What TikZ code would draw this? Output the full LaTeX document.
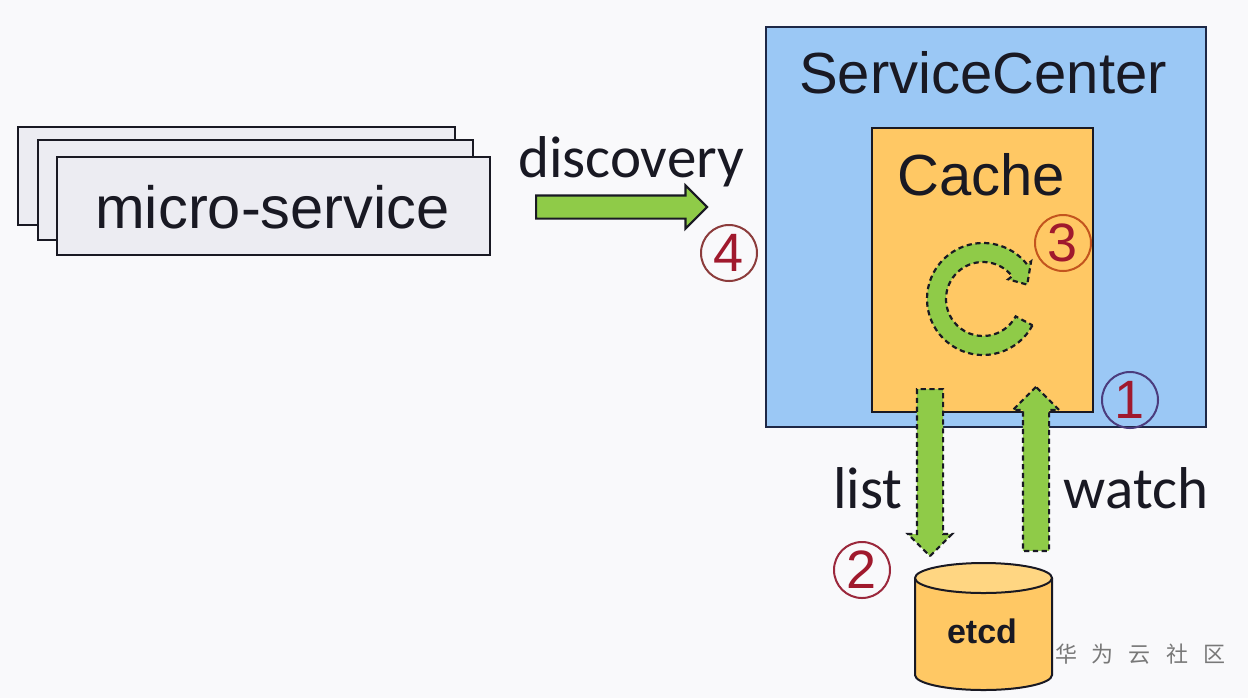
\documentclass[tikz,border=0pt]{standalone}
\usepackage{fontspec}
\setmainfont{Liberation Sans}
\newfontfamily\calfont{Carlito}
\newfontfamily\cjkfont{Noto Sans CJK SC}
\usetikzlibrary{shapes.arrows,calc}
\definecolor{bgc}{RGB}{249,249,251}
\definecolor{msfill}{RGB}{236,236,242}
\definecolor{scfill}{RGB}{155,200,245}
\definecolor{scline}{RGB}{30,40,70}
\definecolor{cachefill}{RGB}{255,200,100}
\definecolor{topfill}{RGB}{255,214,130}
\definecolor{greenfill}{RGB}{143,203,72}
\definecolor{darktext}{RGB}{25,25,35}
\definecolor{digitred}{RGB}{160,25,45}
\definecolor{ring4}{RGB}{140,60,60}
\definecolor{ring3}{RGB}{195,85,30}
\definecolor{ring1}{RGB}{75,60,125}
\definecolor{ring2}{RGB}{155,40,60}
\definecolor{wmgray}{RGB}{120,120,120}
\begin{document}
\begin{tikzpicture}[x=0.5pt,y=-0.5pt,
  msbox/.style={draw=darktext, fill=msfill, line width=1pt, inner sep=0pt},
  bigfont/.style={font=\fontsize{29}{29}\selectfont, text=darktext, inner sep=0pt},
  calfont/.style={font=\calfont\fontsize{29.5}{29.5}\selectfont, text=darktext, inner sep=0pt},
  fatarrow/.style={single arrow, draw=darktext, fill=greenfill, line width=1.1pt,
     inner xsep=0pt, inner ysep=6pt, single arrow head extend=4.5pt, anchor=tail},
  dasharrow/.style={fatarrow, dash pattern=on 2.6pt off 1.8pt},
  ringnum/.style={circle, line width=1pt, minimum size=28pt, inner sep=0pt,
     text=digitred, font=\fontsize{27}{27}\selectfont}
]
\fill[bgc] (0,0) rectangle (1248,698);
\useasboundingbox (0,0) rectangle (1248,698);

% micro-service stack
\node[msbox, minimum width=218.5pt, minimum height=49pt] (ms1) at (236.5,176) {};
\node[msbox, minimum width=217.5pt, minimum height=50pt] (ms2) at (255.5,190) {};
\node[msbox, minimum width=216.5pt, minimum height=49pt] (ms3) at (273.5,206) {};
\node[bigfont, font=\fontsize{29.8}{29.8}\selectfont, anchor=base] (mslabel) at (272.5,228) {micro-service};

% discovery
\node[calfont, anchor=base] (disclabel) at (631,177) {discovery};
\node[fatarrow, inner ysep=5.25pt, single arrow head extend=5pt,
      minimum height=85.5pt] (disc) at (535,207) {};
\node[ringnum, draw=ring4] (n4) at (729,253) {4};

% ServiceCenter
\node[draw=scline, fill=scfill, line width=1pt, minimum width=220pt,
      minimum height=200pt, inner sep=0pt] (sc) at (986,227) {};
\node[bigfont, anchor=base] (sclabel) at (983,93) {ServiceCenter};

% Cache
\node[draw=darktext, fill=cachefill, line width=1pt, minimum width=110.5pt,
      minimum height=142pt, inner sep=0pt] (cache) at (982.5,270) {};
\node[bigfont, anchor=base] (cachelabel) at (981,195) {Cache};

% loop arrow
\coordinate (lc) at (983,299);
\filldraw[fill=greenfill, draw=darktext, line width=1.1pt, dash pattern=on 2.6pt off 1.8pt]
  (lc) ++(28:56) arc[start angle=28, end angle=322, radius=56]
  -- ($(lc)+(322:61)$) -- ($(lc)+(342:46.5)$) -- ($(lc)+(322:32)$)
  -- ($(lc)+(322:37)$) arc[start angle=322, end angle=28, radius=37] -- cycle;
\node[ringnum, draw=ring3] (n3) at (1063,243) {3};
\node[ringnum, draw=ring1] (n1) at (1130,400) {1};

% etcd cylinder
\fill[cachefill] (915,578) -- (915,675) arc[start angle=180, end angle=0, x radius=68.5, y radius=15]
   -- (1052,578) arc[start angle=0, end angle=180, x radius=68.5, y radius=15] -- cycle;
\draw[darktext, line width=1pt] (915,578) -- (915,675) arc[start angle=180, end angle=0, x radius=68.5, y radius=15] -- (1052,578);
\filldraw[fill=topfill, draw=darktext, line width=1pt] (983.5,578) ellipse[x radius=68.5, y radius=15];
\node[font=\bfseries\fontsize{17}{17}\selectfont, text=darktext, anchor=base, inner sep=0pt] (etcd) at (982,643) {etcd};

% list / watch arrows
\node[dasharrow, rotate=-90, minimum height=83.5pt, minimum width=21pt] (list) at (930,388) {};
\node[dasharrow, rotate=90, minimum height=82pt, minimum width=22pt,
      single arrow head extend=5pt] (watch) at (1036,552) {};
\node[calfont, anchor=base] (listlabel) at (868,508) {list};
\node[calfont, anchor=base] (watchlabel) at (1136,508) {watch};
\node[ringnum, draw=ring2] (n2) at (862,570) {2};

% watermark
\node[font=\cjkfont\fontsize{11}{11}\selectfont, text=wmgray, inner sep=0pt] (wm) at (1140,654)
  {华\hspace{7.5pt}为\hspace{7.5pt}云\hspace{7.5pt}社\hspace{7.5pt}区};
\end{tikzpicture}
\end{document}
